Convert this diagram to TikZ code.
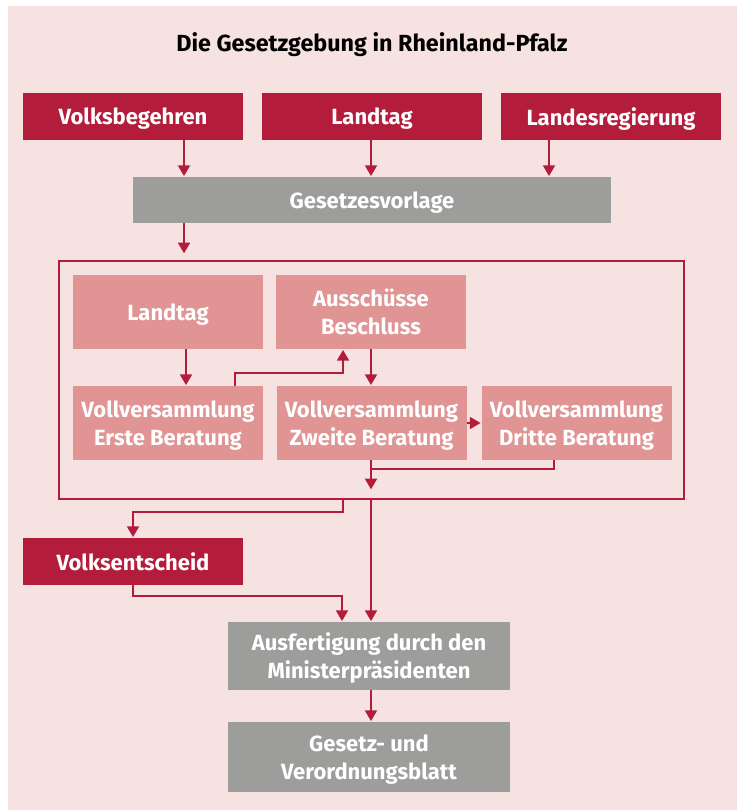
\documentclass[tikz,border=0pt]{standalone}
\usepackage{fontspec}
\setmainfont{Fira Sans}
\usepackage[HTML]{xcolor}
\usetikzlibrary{positioning, arrows.meta}

\definecolor{bgpink}{HTML}{F6E2E0}
\definecolor{darkred}{HTML}{B41C3C}
\definecolor{lightred}{HTML}{E09494}
\definecolor{greybox}{HTML}{9D9E9C}

\tikzset{
    boxtext/.style={text=white, font=\fontsize{16.5}{21}\selectfont\bfseries, align=center, inner sep=0pt, text depth=0pt},
    redbox/.style={boxtext, fill=darkred, minimum width=220*0.75pt, minimum height=47*0.75pt},
    greyboxed/.style={boxtext, fill=greybox},
    pinkbox/.style={boxtext, fill=lightred, minimum width=190*0.75pt, minimum height=74*0.75pt},
    arr/.style={draw=darkred, line width=1.3pt, -{Triangle[length=8pt, width=9pt]}, shorten >=0.5pt},
    plain/.style={draw=darkred, line width=1.3pt}
}

\begin{document}
\begin{tikzpicture}[x=0.75pt, y=-0.75pt]
    % page and background
    \useasboundingbox (0,0) rectangle (737,810);
    \fill[bgpink] (8,6) rectangle (737,810);

    % title
    \node[font=\fontsize{17.5}{21}\selectfont\bfseries] (title) at (372,45) {Die Gesetzgebung in Rheinland-Pfalz};

    % who may bring in a bill
    \node[redbox] (vbeg) at (133,116.5) {Volksbegehren};
    \node[redbox] (ltag) at (372,116.5) {Landtag};
    \node[redbox] (lreg) at (611,116.5) {Landesregierung};

    \node[greyboxed, minimum width=478*0.75pt, minimum height=46*0.75pt] (gesvorl) at (372,200) {Gesetzesvorlage};

    % the parliament frame
    \node[draw=darkred, line width=1.5pt, minimum width=625*0.75pt, minimum height=238*0.75pt, inner sep=0pt] (frame) at (371.5,380) {};

    \node[pinkbox] (ltagI) at (168,312) {Landtag};
    \node[pinkbox] (aussch) at (371,312) {Ausschüsse\\Beschluss};
    \node[pinkbox] (erste) at (168,423) {Vollversammlung\\Erste Beratung};
    \node[pinkbox] (zweite) at (371.5,423) {Vollversammlung\\Zweite Beratung};
    \node[pinkbox] (dritte) at (576.5,423) {Vollversammlung\\Dritte Beratung};

    % below the frame
    \node[redbox] (vents) at (133,561.5) {Volksentscheid};
    \node[greyboxed, minimum width=282*0.75pt, minimum height=68*0.75pt] (ausf) at (369,656) {Ausfertigung durch den\\Ministerpräsidenten};
    \node[greyboxed, minimum width=282*0.75pt, minimum height=70*0.75pt] (gvbl) at (369,757) {Gesetz- und\\Verordnungsblatt};

    % columns and bends of the connectors
    \coordinate (c1) at (184,0);
    \coordinate (c2) at (371,0);
    \coordinate (c3) at (549,0);
    \coordinate (c4) at (186,0);
    \coordinate (xa) at (235,0);
    \coordinate (xd) at (554,0);
    \coordinate (t1) at (343,373);
    \coordinate (t2) at (371,490);
    \coordinate (t3) at (371,469);
    \coordinate (t4) at (133,512);
    \coordinate (t5) at (342,596);

    % into the bill
    \draw[arr] (vbeg.south -| c1) -- (gesvorl.north -| c1);
    \draw[arr] (ltag.south -| c2) -- (gesvorl.north -| c2);
    \draw[arr] (lreg.south -| c3) -- (gesvorl.north -| c3);
    \draw[arr, shorten >=5pt] (gesvorl.south -| c1) -- (frame.north -| c1);

    % inside the frame
    \draw[arr] (ltagI.south -| c4) -- (erste.north -| c4);
    \draw[arr] (erste.north -| xa) |- (t1) -- (aussch.south -| t1);
    \draw[arr] (aussch.south -| c2) -- (zweite.north -| c2);
    \draw[arr] (zweite.east) -- (dritte.west);
    \draw[arr] (zweite.south -| c2) -- (t2);
    \draw[plain] (dritte.south -| xd) |- (t3);

    % out of the frame
    \draw[arr] (frame.south -| t1) |- (t4) -- (vents.north -| t4);
    \draw[arr] (frame.south -| c2) -- (ausf.north -| c2);
    \draw[arr] (vents.south -| t4) |- (t5) -- (ausf.north -| t5);
    \draw[arr] (ausf.south -| c2) -- (gvbl.north -| c2);
\end{tikzpicture}
\end{document}
